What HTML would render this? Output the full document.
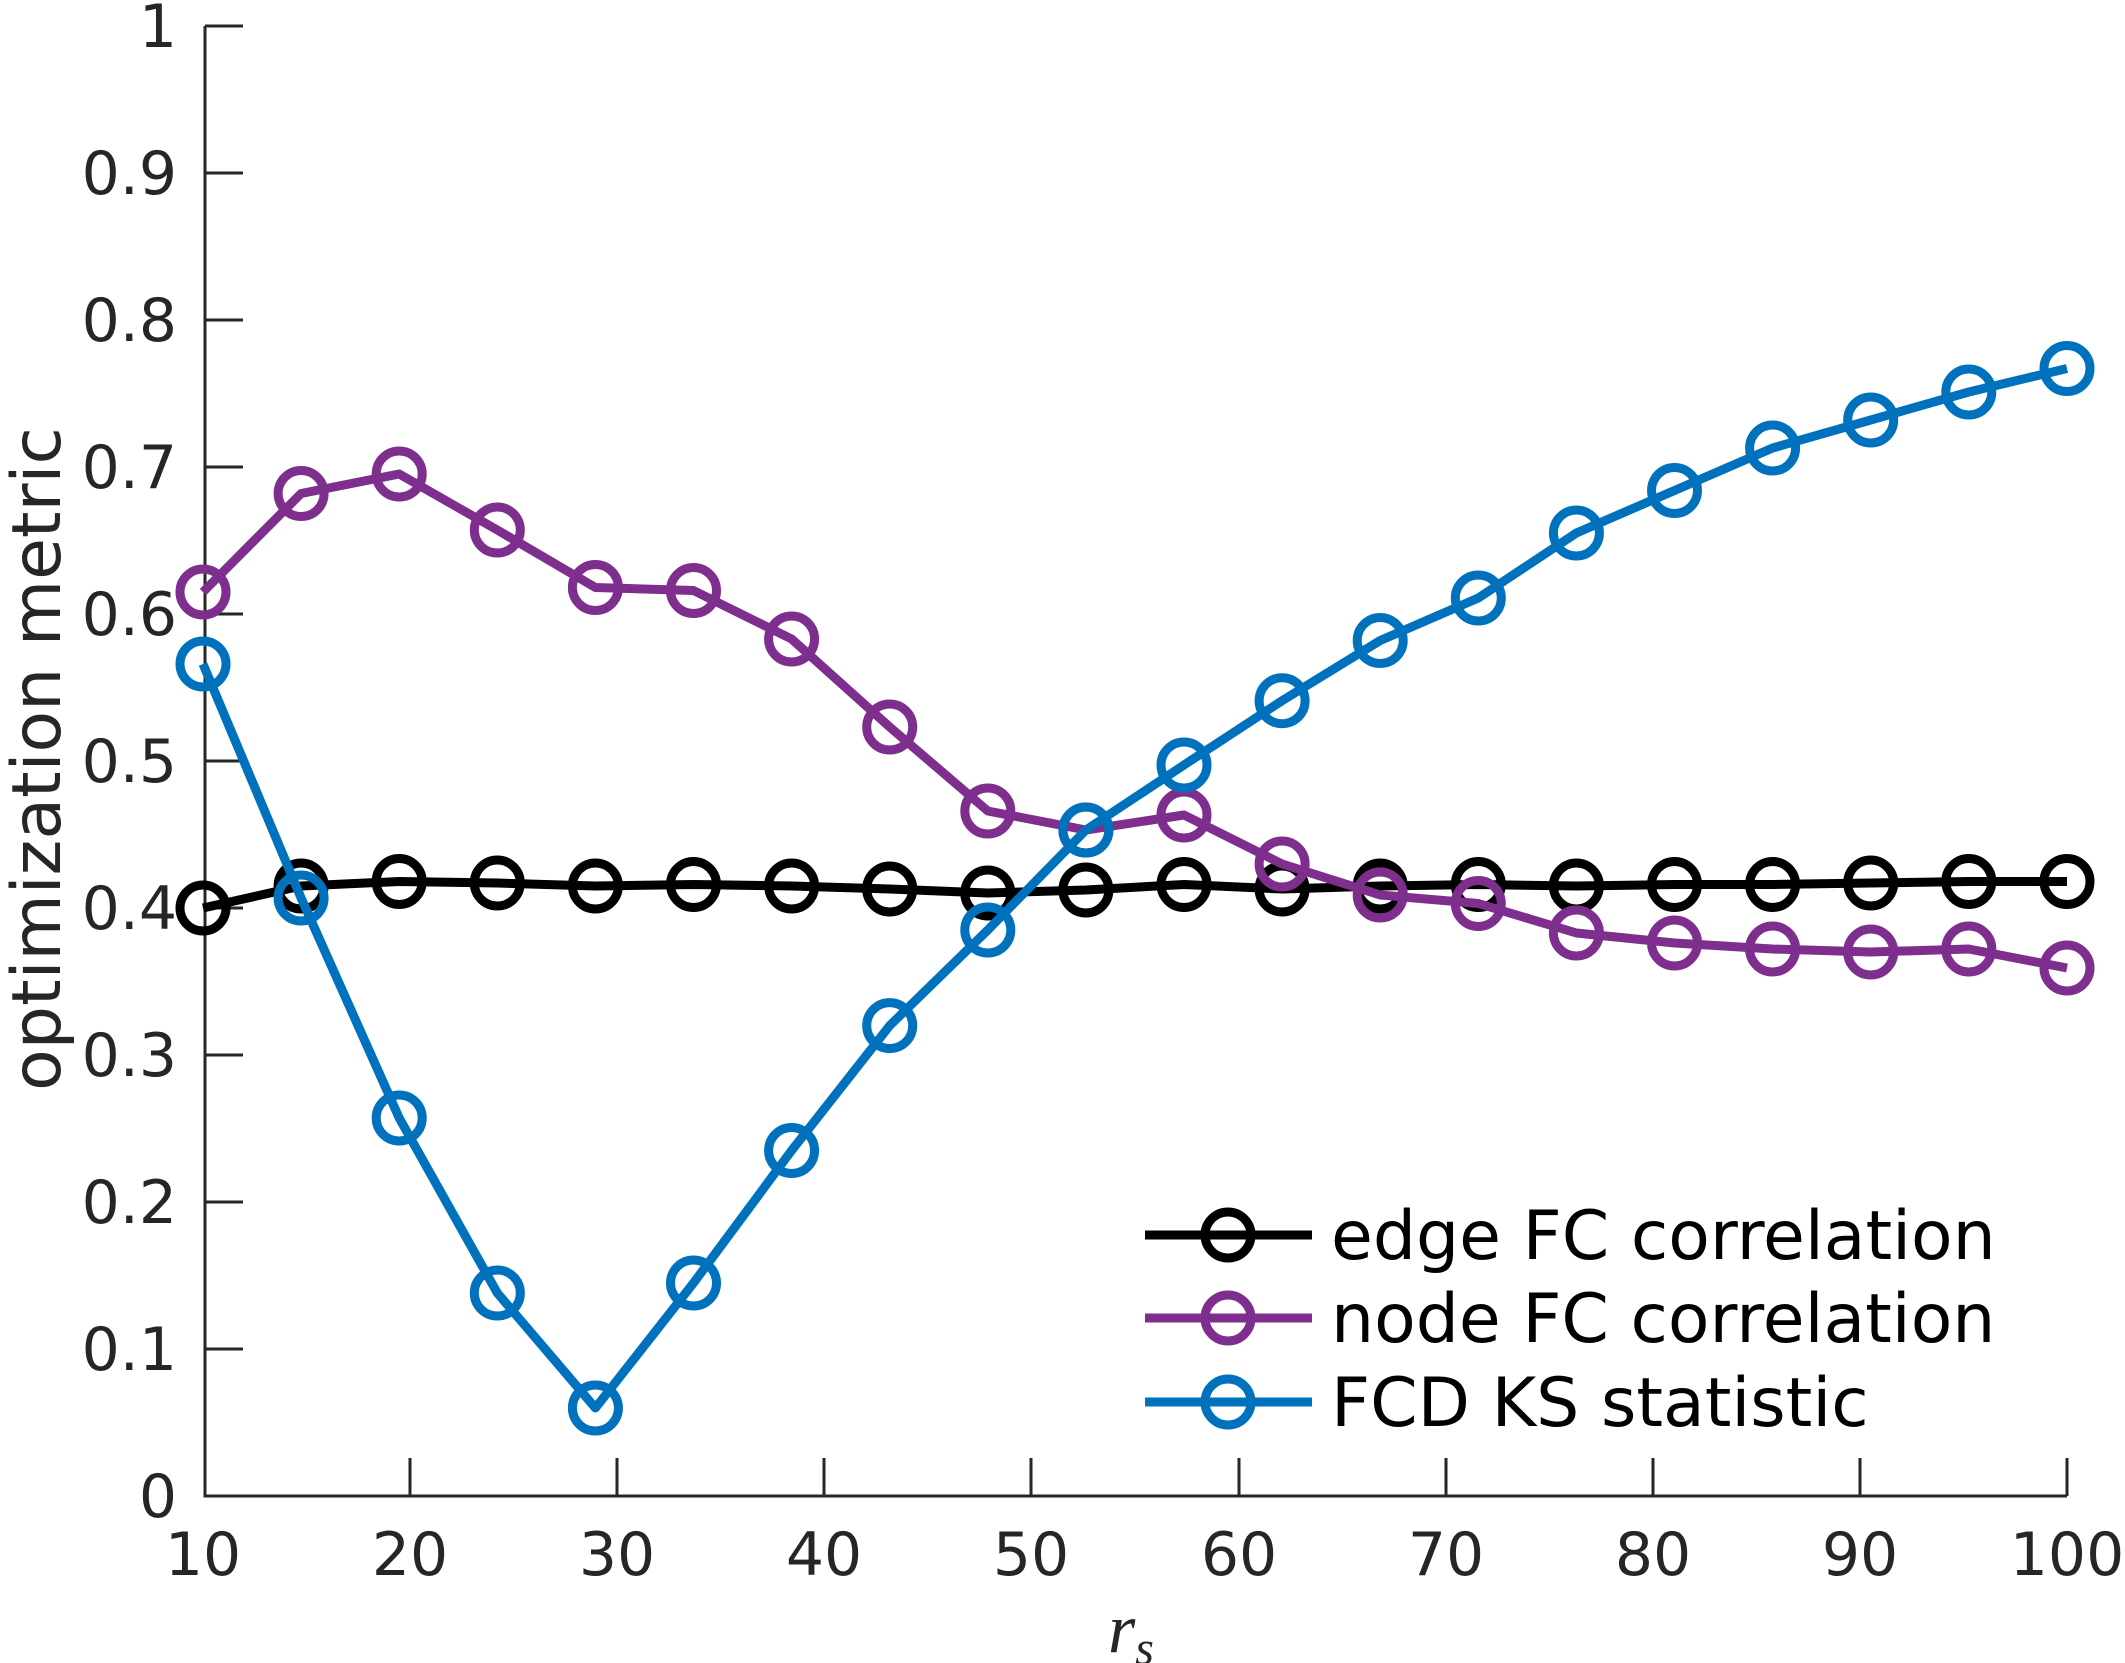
<!DOCTYPE html>
<html><head><meta charset="utf-8"><style>
html,body{margin:0;padding:0;background:#fff;}
svg{display:block;}
text{font-family:"DejaVu Sans","Liberation Sans",sans-serif;fill:#262626;}
</style></head><body>
<svg width="2125" height="1663" viewBox="0 0 2125 1663" xmlns="http://www.w3.org/2000/svg">
<rect width="2125" height="1663" fill="#fff"/>
<g stroke="#262626" stroke-width="3" fill="none">
<path d="M205 26 V1496 H2067"/>
<path d="M205 26h38 M205 173h38 M205 320h38 M205 467h38 M205 614h38 M205 761h38 M205 908h38 M205 1055h38 M205 1202h38 M205 1349h38"/>
<path d="M410 1496v-38 M617 1496v-38 M824 1496v-38 M1031 1496v-38 M1239 1496v-38 M1446 1496v-38 M1653 1496v-38 M1860 1496v-38 M2067 1496v-38"/>
</g>
<g font-size="60" text-anchor="end">
<text x="177" y="47">1</text><text x="177" y="194">0.9</text><text x="177" y="341">0.8</text><text x="177" y="488">0.7</text><text x="177" y="635">0.6</text><text x="177" y="782">0.5</text><text x="177" y="929">0.4</text><text x="177" y="1076">0.3</text><text x="177" y="1223">0.2</text><text x="177" y="1370">0.1</text><text x="177" y="1517">0</text>
</g>
<g font-size="60" text-anchor="middle">
<text x="203" y="1575">10</text><text x="410" y="1575">20</text><text x="617" y="1575">30</text><text x="824" y="1575">40</text><text x="1031" y="1575">50</text><text x="1239" y="1575">60</text><text x="1446" y="1575">70</text><text x="1653" y="1575">80</text><text x="1860" y="1575">90</text><text x="2067" y="1575">100</text>
</g>
<text x="0" y="0" font-size="68" text-anchor="middle" transform="translate(60 759) rotate(-90)">optimization metric</text>
<text x="1108" y="1652" font-size="70" font-style="italic" style="font-family:'Liberation Serif',serif">r<tspan font-size="48" dy="12">s</tspan></text>

<g fill="none" stroke-width="9" stroke-linejoin="round">
<g stroke="#000">
<polyline stroke-width="9" points="203,908 301.1,886 399.2,881.5 497.3,883 595.4,886 693.5,884.5 791.6,886 889.7,889 987.8,893 1085.9,890 1184,884.5 1282.1,889 1380.2,886 1478.3,884.5 1576.4,886 1674.5,884.5 1772.6,884.5 1870.7,883 1968.8,881.5 2067,881.5"/>
<circle cx="203" cy="908" r="23"/><circle cx="301.1" cy="886" r="23"/><circle cx="399.2" cy="881.5" r="23"/><circle cx="497.3" cy="883" r="23"/><circle cx="595.4" cy="886" r="23"/><circle cx="693.5" cy="884.5" r="23"/><circle cx="791.6" cy="886" r="23"/><circle cx="889.7" cy="889" r="23"/><circle cx="987.8" cy="893" r="23"/><circle cx="1085.9" cy="890" r="23"/><circle cx="1184" cy="884.5" r="23"/><circle cx="1282.1" cy="889" r="23"/><circle cx="1380.2" cy="886" r="23"/><circle cx="1478.3" cy="884.5" r="23"/><circle cx="1576.4" cy="886" r="23"/><circle cx="1674.5" cy="884.5" r="23"/><circle cx="1772.6" cy="884.5" r="23"/><circle cx="1870.7" cy="883" r="23"/><circle cx="1968.8" cy="881.5" r="23"/><circle cx="2067" cy="881.5" r="23"/>
</g>
<g stroke="#7E2F8E">
<polyline stroke-width="9" points="203,592 301.1,493.5 399.2,474 497.3,530 595.4,587.5 693.5,590.5 791.6,639 889.7,727 987.8,811 1085.9,830 1184,815 1282.1,864 1380.2,895 1478.3,903.5 1576.4,933 1674.5,943 1772.6,949 1870.7,952 1968.8,949 2067,968"/>
<circle cx="203" cy="592" r="23"/><circle cx="301.1" cy="493.5" r="23"/><circle cx="399.2" cy="474" r="23"/><circle cx="497.3" cy="530" r="23"/><circle cx="595.4" cy="587.5" r="23"/><circle cx="693.5" cy="590.5" r="23"/><circle cx="791.6" cy="639" r="23"/><circle cx="889.7" cy="727" r="23"/><circle cx="987.8" cy="811" r="23"/><circle cx="1085.9" cy="830" r="23"/><circle cx="1184" cy="815" r="23"/><circle cx="1282.1" cy="864" r="23"/><circle cx="1380.2" cy="895" r="23"/><circle cx="1478.3" cy="903.5" r="23"/><circle cx="1576.4" cy="933" r="23"/><circle cx="1674.5" cy="943" r="23"/><circle cx="1772.6" cy="949" r="23"/><circle cx="1870.7" cy="952" r="23"/><circle cx="1968.8" cy="949" r="23"/><circle cx="2067" cy="968" r="23"/>
</g>
<g stroke="#0072BD">
<polyline stroke-width="9" points="203,664 301.1,898 399.2,1118 497.3,1293 595.4,1408 693.5,1283 791.6,1150.5 889.7,1025.6 987.8,930 1085.9,830 1184,765 1282.1,700.7 1380.2,640.5 1478.3,598 1576.4,533 1674.5,490.5 1772.6,448 1870.7,420 1968.8,392 2067,368.5"/>
<circle cx="203" cy="664" r="23"/><circle cx="301.1" cy="898" r="23"/><circle cx="399.2" cy="1118" r="23"/><circle cx="497.3" cy="1293" r="23"/><circle cx="595.4" cy="1408" r="23"/><circle cx="693.5" cy="1283" r="23"/><circle cx="791.6" cy="1150.5" r="23"/><circle cx="889.7" cy="1025.6" r="23"/><circle cx="987.8" cy="930" r="23"/><circle cx="1085.9" cy="830" r="23"/><circle cx="1184" cy="765" r="23"/><circle cx="1282.1" cy="700.7" r="23"/><circle cx="1380.2" cy="640.5" r="23"/><circle cx="1478.3" cy="598" r="23"/><circle cx="1576.4" cy="533" r="23"/><circle cx="1674.5" cy="490.5" r="23"/><circle cx="1772.6" cy="448" r="23"/><circle cx="1870.7" cy="420" r="23"/><circle cx="1968.8" cy="392" r="23"/><circle cx="2067" cy="368.5" r="23"/>
</g>
<!-- legend -->
<g stroke="#000"><path stroke-width="9" d="M1145 1235H1312"/><circle cx="1228" cy="1235" r="23"/></g>
<g stroke="#7E2F8E"><path stroke-width="9" d="M1145 1318H1312"/><circle cx="1228" cy="1318" r="23"/></g>
<g stroke="#0072BD"><path stroke-width="9" d="M1145 1402H1312"/><circle cx="1228" cy="1402" r="23"/></g>
</g>
<g font-size="68">
<text x="1331" y="1259" style="fill:#000">edge FC correlation</text>
<text x="1331" y="1342" style="fill:#000">node FC correlation</text>
<text x="1331" y="1426" style="fill:#000">FCD KS statistic</text>
</g>
</svg>
</body></html>
